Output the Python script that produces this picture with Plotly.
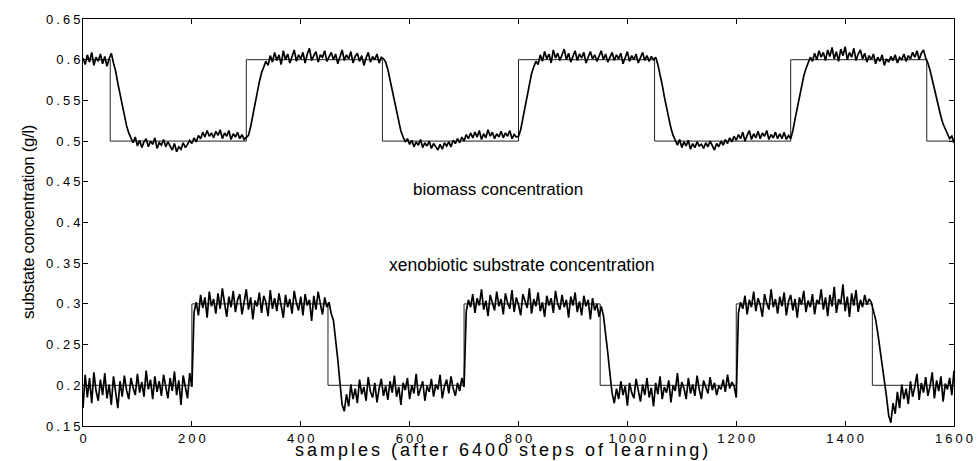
import plotly.graph_objects as go

# sample index of every stored value (every 4th sample)
samples = list(range(0, 1601, 4))

# set-point (reference) step signals
biomass_ref_x = [0, 50, 300, 550, 800, 1050, 1300, 1550, 1600]
biomass_ref = [0.6, 0.5, 0.6, 0.5, 0.6, 0.5, 0.6, 0.5, 0.5]
xeno_ref_x = [0, 200, 450, 700, 950, 1200, 1450, 1600]
xeno_ref = [0.2, 0.3, 0.2, 0.3, 0.2, 0.3, 0.2, 0.2]

# biomass concentration response
biomass = [
    0.602, 0.594, 0.606, 0.597, 0.609, 0.593, 0.603, 0.598, 0.607, 0.595, 0.604, 0.592, 0.601, 0.608, 0.596, 0.586, 0.571, 0.557, 0.543, 0.531,
    0.519, 0.510, 0.503, 0.498, 0.505, 0.494, 0.501, 0.492, 0.499, 0.503, 0.493, 0.500, 0.496, 0.504, 0.491, 0.498, 0.495, 0.502, 0.493, 0.499,
    0.494, 0.489, 0.497, 0.487, 0.493, 0.490, 0.498, 0.492, 0.496, 0.501, 0.497, 0.504, 0.499, 0.507, 0.503, 0.511, 0.505, 0.513, 0.506, 0.510,
    0.504, 0.512, 0.507, 0.514, 0.503, 0.510, 0.506, 0.513, 0.502, 0.509, 0.505, 0.511, 0.503, 0.508, 0.502, 0.505, 0.507, 0.518, 0.532, 0.547,
    0.561, 0.573, 0.584, 0.592, 0.598, 0.593, 0.605, 0.597, 0.609, 0.599, 0.606, 0.594, 0.611, 0.600, 0.607, 0.596, 0.604, 0.612, 0.598, 0.606,
    0.601, 0.609, 0.596, 0.607, 0.614, 0.599, 0.605, 0.610, 0.597, 0.606, 0.603, 0.611, 0.598, 0.604, 0.609, 0.600, 0.607, 0.595, 0.605, 0.612,
    0.599, 0.606, 0.601, 0.610, 0.596, 0.604, 0.608, 0.598, 0.605, 0.593, 0.602, 0.609, 0.597, 0.604, 0.600, 0.607, 0.596, 0.603, 0.601, 0.597,
    0.588, 0.575, 0.561, 0.547, 0.534, 0.522, 0.512, 0.505, 0.499, 0.503, 0.496, 0.501, 0.493, 0.499, 0.495, 0.502, 0.492, 0.498, 0.494, 0.500,
    0.491, 0.497, 0.493, 0.489, 0.496, 0.490, 0.498, 0.494, 0.499, 0.493, 0.501, 0.497, 0.503, 0.498, 0.505, 0.500, 0.508, 0.503, 0.510, 0.504,
    0.511, 0.505, 0.513, 0.502, 0.509, 0.504, 0.514, 0.506, 0.511, 0.503, 0.509, 0.505, 0.512, 0.504, 0.510, 0.506, 0.513, 0.503, 0.508, 0.505,
    0.506, 0.514, 0.528, 0.543, 0.558, 0.571, 0.583, 0.591, 0.598, 0.594, 0.606, 0.598, 0.610, 0.601, 0.607, 0.596, 0.612, 0.602, 0.608, 0.599,
    0.606, 0.613, 0.600, 0.608, 0.597, 0.605, 0.611, 0.599, 0.607, 0.602, 0.609, 0.596, 0.604, 0.610, 0.601, 0.606, 0.598, 0.605, 0.611, 0.600,
    0.607, 0.597, 0.604, 0.609, 0.599, 0.606, 0.601, 0.608, 0.595, 0.603, 0.610, 0.598, 0.605, 0.600, 0.607, 0.596, 0.603, 0.609, 0.599, 0.605,
    0.598, 0.604, 0.600, 0.603, 0.594, 0.583, 0.569, 0.554, 0.540, 0.527, 0.516, 0.507, 0.501, 0.495, 0.502, 0.492, 0.499, 0.494, 0.501, 0.490,
    0.497, 0.492, 0.499, 0.494, 0.496, 0.491, 0.498, 0.493, 0.500, 0.495, 0.489, 0.497, 0.493, 0.500, 0.495, 0.502, 0.497, 0.504, 0.499, 0.506,
    0.501, 0.508, 0.503, 0.511, 0.500, 0.507, 0.513, 0.502, 0.509, 0.504, 0.512, 0.503, 0.510, 0.506, 0.513, 0.502, 0.508, 0.504, 0.511, 0.503,
    0.509, 0.503, 0.511, 0.502, 0.507, 0.503, 0.513, 0.527, 0.541, 0.556, 0.569, 0.580, 0.589, 0.596, 0.603, 0.598, 0.608, 0.600, 0.611, 0.603,
    0.609, 0.599, 0.612, 0.604, 0.615, 0.601, 0.610, 0.598, 0.613, 0.605, 0.616, 0.600, 0.609, 0.603, 0.614, 0.599, 0.607, 0.612, 0.601, 0.608,
    0.597, 0.605, 0.600, 0.607, 0.595, 0.603, 0.598, 0.606, 0.593, 0.601, 0.597, 0.604, 0.599, 0.606, 0.596, 0.603, 0.600, 0.607, 0.598, 0.605,
    0.601, 0.609, 0.603, 0.611, 0.600, 0.608, 0.612, 0.602, 0.596, 0.587, 0.575, 0.563, 0.551, 0.540, 0.530, 0.521, 0.514, 0.509, 0.503, 0.506,
    0.498,
]

# xenobiotic substrate concentration response
xeno = [
    0.172, 0.213, 0.185, 0.209, 0.178, 0.216, 0.193, 0.181, 0.207, 0.188, 0.215, 0.184, 0.201, 0.176, 0.211, 0.190, 0.172, 0.205, 0.186, 0.212,
    0.194, 0.183, 0.209, 0.197, 0.188, 0.214, 0.191, 0.204, 0.186, 0.218, 0.195, 0.207, 0.183, 0.211, 0.192, 0.205, 0.187, 0.213, 0.198, 0.184,
    0.209, 0.193, 0.217, 0.188, 0.206, 0.176, 0.212, 0.197, 0.184, 0.215, 0.198, 0.290, 0.302, 0.286, 0.311, 0.295, 0.308, 0.283, 0.315, 0.297,
    0.306, 0.288, 0.313, 0.294, 0.319, 0.301, 0.284, 0.309, 0.296, 0.316, 0.290, 0.305, 0.312, 0.287, 0.303, 0.318, 0.293, 0.308, 0.281, 0.304,
    0.297, 0.314, 0.289, 0.310, 0.302, 0.285, 0.317, 0.294, 0.307, 0.291, 0.313, 0.299, 0.283, 0.311, 0.296, 0.306, 0.288, 0.316, 0.301, 0.292,
    0.309, 0.286, 0.312, 0.298, 0.305, 0.279, 0.310, 0.293, 0.315, 0.300, 0.287, 0.308, 0.296, 0.302, 0.288, 0.280, 0.258, 0.232, 0.203, 0.176,
    0.168, 0.189, 0.174, 0.201, 0.183, 0.196, 0.178, 0.207, 0.189, 0.198, 0.181, 0.210, 0.192, 0.185, 0.203, 0.179, 0.196, 0.208, 0.187, 0.199,
    0.182, 0.205, 0.191, 0.212, 0.186, 0.198, 0.176, 0.203, 0.194, 0.209, 0.183, 0.200, 0.190, 0.214, 0.187, 0.197, 0.205, 0.181, 0.199, 0.192,
    0.208, 0.186, 0.201, 0.195, 0.213, 0.184, 0.199, 0.207, 0.190, 0.211, 0.196, 0.187, 0.203, 0.193, 0.209, 0.198, 0.291, 0.305, 0.296, 0.312,
    0.289, 0.307, 0.298, 0.318, 0.293, 0.304, 0.285, 0.311, 0.300, 0.292, 0.315, 0.297, 0.306, 0.287, 0.313, 0.301, 0.294, 0.317, 0.290, 0.308,
    0.299, 0.286, 0.312, 0.303, 0.295, 0.319, 0.288, 0.306, 0.297, 0.314, 0.291, 0.302, 0.284, 0.310, 0.298, 0.307, 0.289, 0.316, 0.300, 0.293,
    0.311, 0.296, 0.305, 0.283, 0.309, 0.298, 0.314, 0.290, 0.303, 0.286, 0.310, 0.297, 0.305, 0.281, 0.307, 0.292, 0.300, 0.284, 0.297, 0.286,
    0.266, 0.240, 0.214, 0.190, 0.178, 0.196, 0.183, 0.205, 0.188, 0.199, 0.175, 0.203, 0.191, 0.184, 0.208, 0.193, 0.180, 0.201, 0.188, 0.209,
    0.185, 0.197, 0.174, 0.203, 0.189, 0.211, 0.183, 0.198, 0.191, 0.206, 0.179, 0.200, 0.193, 0.215, 0.186, 0.204, 0.196, 0.183, 0.209, 0.190,
    0.201, 0.187, 0.212, 0.195, 0.183, 0.206, 0.198, 0.190, 0.210, 0.194, 0.203, 0.188, 0.199, 0.195, 0.207, 0.192, 0.213, 0.196, 0.204, 0.199,
    0.185, 0.289, 0.302, 0.294, 0.310, 0.287, 0.305, 0.296, 0.315, 0.291, 0.307, 0.299, 0.284, 0.312, 0.301, 0.293, 0.318, 0.296, 0.306, 0.288,
    0.309, 0.297, 0.314, 0.286, 0.303, 0.311, 0.292, 0.306, 0.283, 0.308, 0.299, 0.316, 0.290, 0.304, 0.296, 0.312, 0.287, 0.305, 0.300, 0.318,
    0.293, 0.308, 0.285, 0.311, 0.297, 0.321, 0.289, 0.306, 0.300, 0.324, 0.291, 0.309, 0.284, 0.313, 0.298, 0.317, 0.290, 0.305, 0.296, 0.311,
    0.299, 0.306, 0.302, 0.293, 0.281, 0.264, 0.246, 0.228, 0.210, 0.186, 0.163, 0.154, 0.178, 0.165, 0.192, 0.172, 0.201, 0.183, 0.196, 0.177,
    0.205, 0.186, 0.198, 0.214, 0.182, 0.203, 0.191, 0.210, 0.187, 0.199, 0.216, 0.184, 0.206, 0.193, 0.211, 0.180, 0.202, 0.195, 0.209, 0.188,
    0.218,
]

x_ticks = [0, 200, 400, 600, 800, 1000, 1200, 1400, 1600]
y_ticks = [0.15, 0.2, 0.25, 0.3, 0.35, 0.4, 0.45, 0.5, 0.55, 0.6, 0.65]
y_tick_text = ["0.15", "0.2", "0.25", "0.3", "0.35", "0.4", "0.45", "0.5", "0.55", "0.6", "0.65"]

FONT = "Liberation Sans, Arial, Helvetica, sans-serif"

fig = go.Figure()
fig.add_trace(go.Scatter(x=biomass_ref_x, y=biomass_ref, mode="lines", line_shape="hv",
                         line=dict(color="#222222", width=1), showlegend=False, hoverinfo="skip"))
fig.add_trace(go.Scatter(x=xeno_ref_x, y=xeno_ref, mode="lines", line_shape="hv",
                         line=dict(color="#222222", width=1), showlegend=False, hoverinfo="skip"))
fig.add_trace(go.Scatter(x=samples, y=biomass, mode="lines",
                         line=dict(color="black", width=1.7), showlegend=False))
fig.add_trace(go.Scatter(x=samples, y=xeno, mode="lines",
                         line=dict(color="black", width=1.7), showlegend=False))

axis_common = dict(showline=True, linecolor="black", linewidth=1, mirror="ticks",
                   ticks="inside", ticklen=5, tickcolor="black", tickwidth=1,
                   showgrid=False, zeroline=False,
                   tickfont=dict(family=FONT, size=13, color="black"))

fig.update_xaxes(range=[0, 1600], tickvals=x_ticks, **axis_common)
fig.update_yaxes(range=[0.15, 0.65], tickvals=y_ticks, ticktext=y_tick_text, **axis_common)

fig.add_annotation(text="samples (after 6400 steps of learning)", xref="paper", yref="paper",
                   x=0.482, y=0, xanchor="center", yanchor="middle", yshift=-24, showarrow=False,
                   borderpad=0, font=dict(family=FONT, size=18, color="black"))
fig.add_annotation(text="substate concentration (g/l)", xref="paper", yref="paper",
                   x=0, y=0.5, xanchor="center", yanchor="middle", xshift=-55, textangle=-90,
                   showarrow=False, font=dict(family=FONT, size=17, color="black"))
fig.add_annotation(text="biomass concentration", x=602, y=0.440, xanchor="left", yanchor="middle",
                   showarrow=False, font=dict(family=FONT, size=17, color="black"))
fig.add_annotation(text="xenobiotic substrate concentration", x=558, y=0.348, xanchor="left",
                   yanchor="middle", showarrow=False, font=dict(family=FONT, size=17.5, color="black"))

fig.update_layout(width=980, height=461, margin=dict(l=83, r=23, t=19, b=35),
                  paper_bgcolor="white", plot_bgcolor="white", showlegend=False)

post = """
document.body.style.margin = '0';
document.body.style.padding = '0';
var gd = document.getElementById('{plot_id}');
gd.querySelectorAll('.xtick text').forEach(function(t){ t.style.letterSpacing = '3px'; t.setAttribute('dx', '1.5'); });
gd.querySelectorAll('.ytick text').forEach(function(t){ t.style.letterSpacing = '3px'; t.setAttribute('dx', '4'); });
gd.querySelectorAll('.annotation-text').forEach(function(t){
  if (t.textContent.indexOf('samples') === 0) { t.style.letterSpacing = '3px'; }
  if (t.textContent.indexOf('substate') === 0) { t.style.letterSpacing = '-0.4px'; }
});
"""
fig.write_html("out.html", post_script=post, config={"displayModeBar": False})
